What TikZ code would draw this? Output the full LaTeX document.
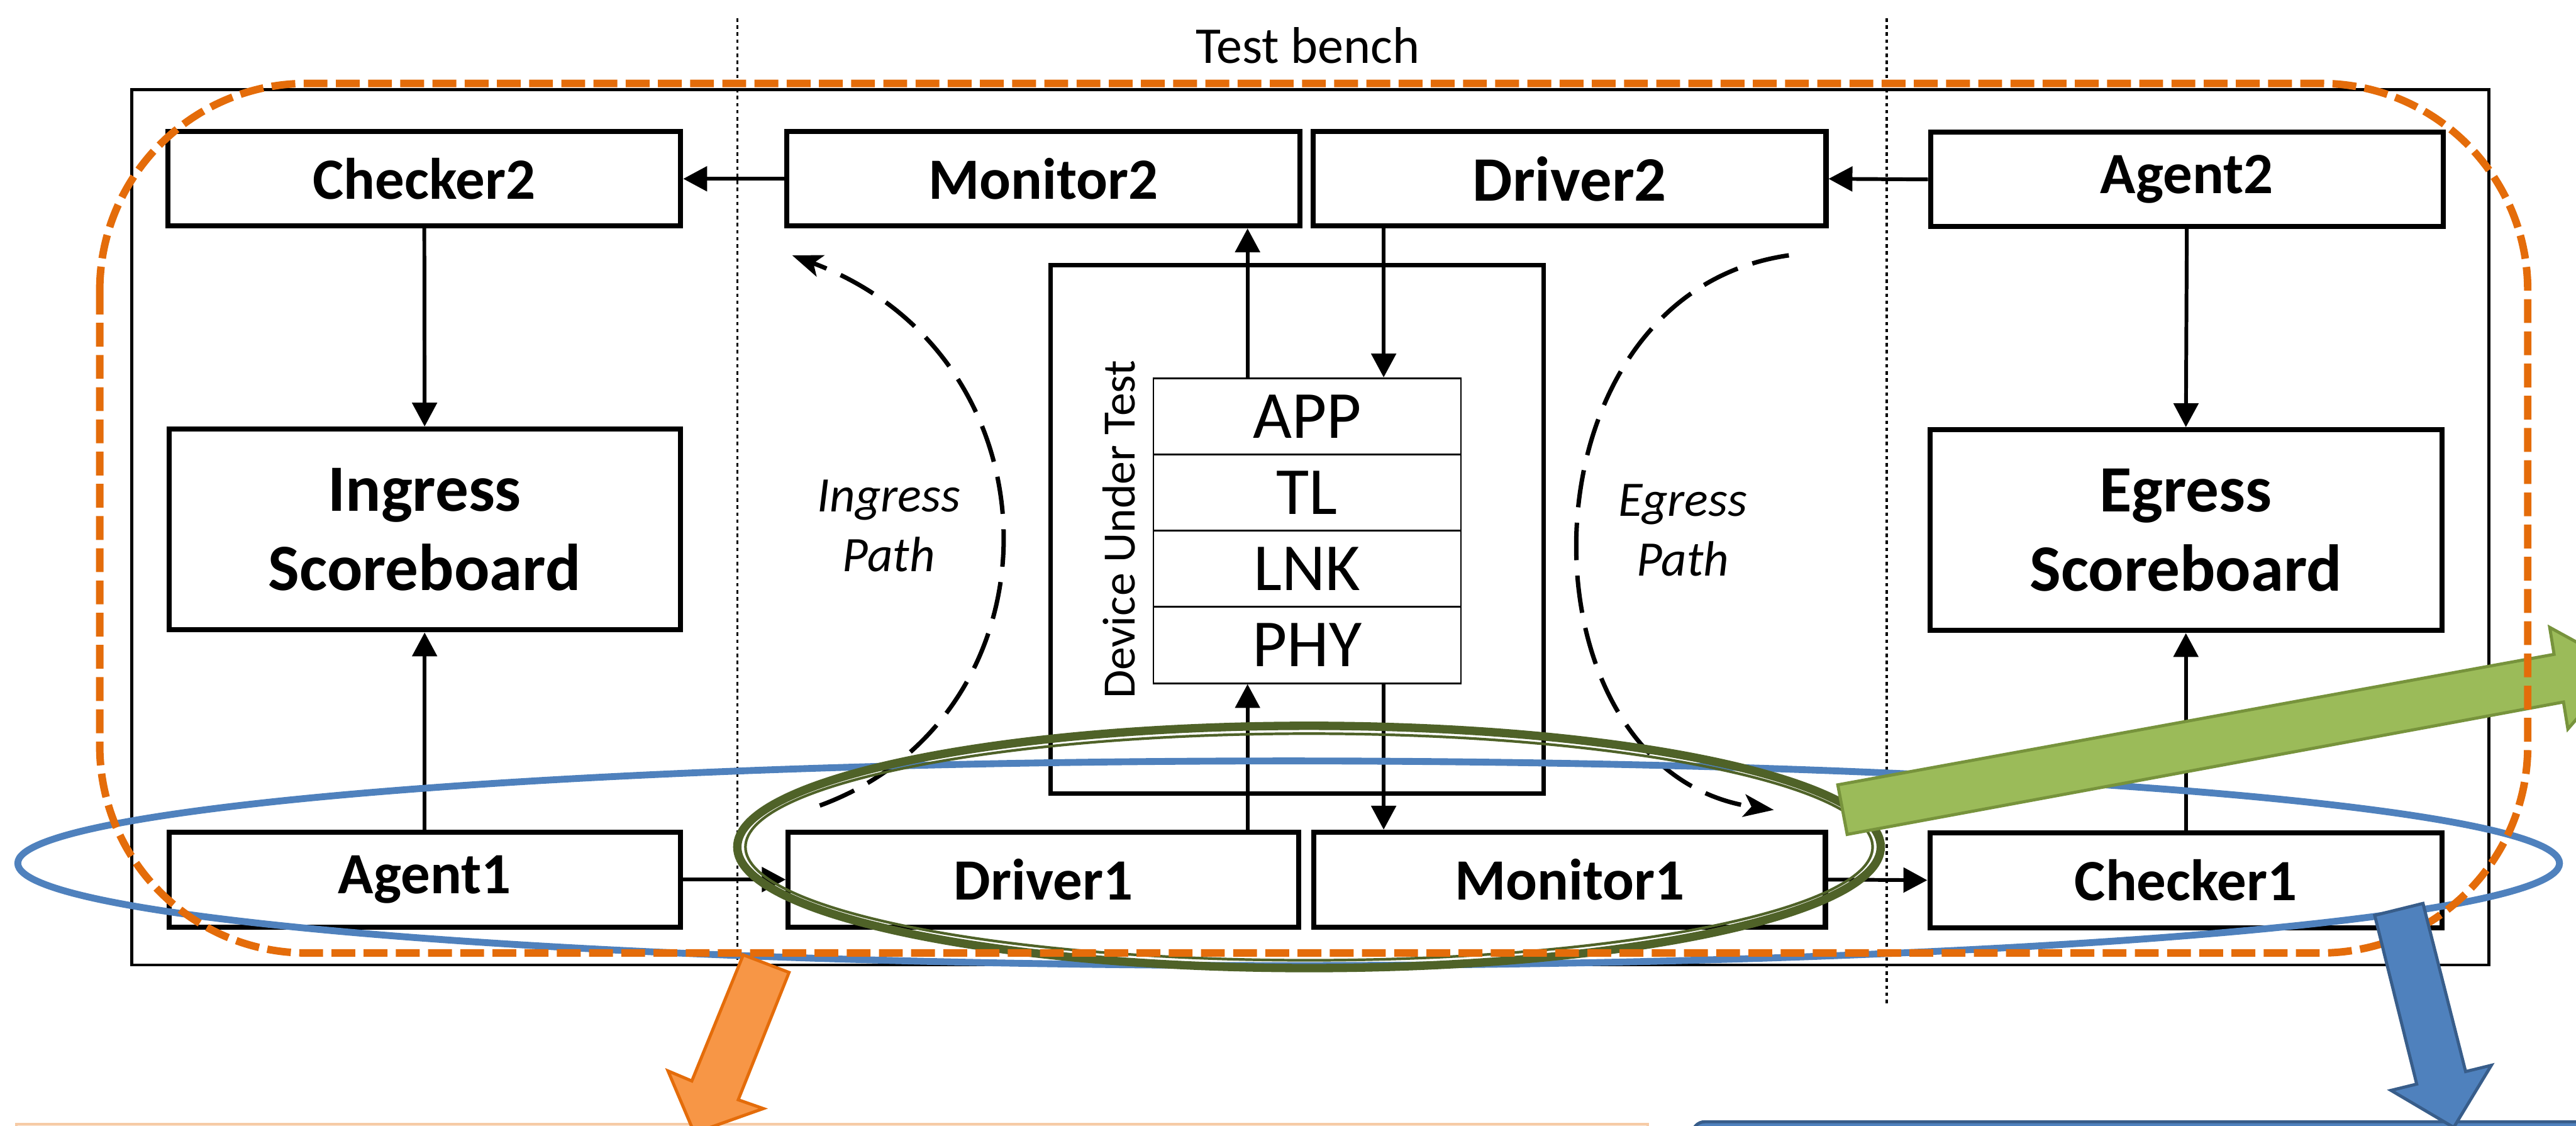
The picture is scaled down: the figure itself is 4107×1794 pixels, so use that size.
\documentclass[tikz,border=0pt]{standalone}
\usepackage{fontspec}
\setmainfont{Carlito}
\usetikzlibrary{arrows.meta}

\definecolor{dashorange}{HTML}{E46C0A}
\definecolor{ringblue}{HTML}{4F81BD}
\definecolor{ringgreen}{HTML}{4F6228}
\definecolor{arrowgreen}{HTML}{9BBB59}
\definecolor{arrowgreenrim}{HTML}{77933C}
\definecolor{arroworange}{HTML}{F79646}
\definecolor{arrowbluerim}{HTML}{385D8A}
\definecolor{panelpeach}{HTML}{FDEADA}
\definecolor{panelpeachrim}{HTML}{F6CBA6}

\tikzset{
  blk/.style={draw, line width=2.3pt, fill=white, inner sep=0pt,
    font=\fontsize{26.5pt}{31pt}\selectfont\bfseries},
  bigblk/.style={blk, align=center,
    font=\fontsize{30pt}{36pt}\selectfont\bfseries},
  layer/.style={draw, line width=0.8pt, fill=white, inner sep=0pt,
    minimum width=4.9cm, minimum height=1.215cm,
    font=\fontsize{30.5pt}{36pt}\selectfont},
  flow/.style={line width=1.7pt, -{Triangle[length=0.38cm,width=0.39cm]}},
  pathcurve/.style={line width=2pt, dash pattern=on 17pt off 7pt,
    -{Stealth[length=0.48cm,width=0.36cm,inset=0.12cm]}},
  pathlabel/.style={align=center, font=\fontsize{22.5pt}{27pt}\selectfont\itshape},
  divider/.style={line width=0.9pt, dash pattern=on 1.6pt off 1.6pt},
  blockarrow/.style={line width=1.4pt, line join=miter}
}

\begin{document}
\begin{tikzpicture}[x=0.01cm,y=-0.01cm]
\useasboundingbox (0,0) rectangle (4107,1794);
\clip (0,0) rectangle (4107,1794);

% test bench frame and its title
\draw[line width=1.3pt] (210,143) rectangle (3968,1538);
\node[font=\fontsize{23.4pt}{28pt}\selectfont] (tbtitle) at (2085,73) {Test bench};

% section dividers
\coordinate (divAtop) at (1176,29);
\coordinate (divAbot) at (1176,1530);
\coordinate (divBtop) at (3008,29);
\coordinate (divBbot) at (3008,1602);
\draw[divider] (divAtop) -- (divAbot);
\draw[divider] (divBtop) -- (divBbot);

% upper row
\node[blk, minimum width=8.17cm, minimum height=1.5cm] (checker2) at (676.5,285) {Checker2};
\node[blk, minimum width=8.17cm, minimum height=1.5cm] (monitor2) at (1663.5,285) {Monitor2};
\node[blk, minimum width=8.17cm, minimum height=1.5cm,
      font=\fontsize{28.7pt}{34pt}\selectfont\bfseries] (driver2) at (2502.5,285) {Driver2};
\node[blk, minimum width=8.17cm, minimum height=1.5cm] (agent2) at (3486.5,286) {Agent2};

% scoreboards
\node[bigblk, minimum width=8.15cm, minimum height=3.2cm] (ingress) at (677,844) {Ingress\\Scoreboard};
\node[bigblk, minimum width=8.16cm, minimum height=3.2cm] (egress) at (3485,845) {Egress\\Scoreboard};

% lower row
\node[blk, minimum width=8.15cm, minimum height=1.51cm] (agent1) at (677,1402) {Agent1};
\node[blk, minimum width=8.13cm, minimum height=1.51cm] (driver1) at (1663.5,1402) {Driver1};
\node[blk, minimum width=8.15cm, minimum height=1.51cm] (monitor1) at (2502.5,1402) {Monitor1};
\node[blk, minimum width=8.16cm, minimum height=1.51cm] (checker1) at (3485,1403) {Checker1};

% device under test with its protocol stack
\node[draw, line width=2pt, fill=white, minimum width=7.86cm, minimum height=8.42cm] (dut) at (2068,844) {};
\node[rotate=90, font=\fontsize{21pt}{25pt}\selectfont] (dutlabel) at (1784,844) {Device Under Test};
\node[layer] (app) at (2084,663.75) {APP};
\node[layer] (tl)  at (2084,785.25) {TL};
\node[layer] (lnk) at (2084,906.75) {LNK};
\node[layer] (phy) at (2084,1028.25) {PHY};

% connectors
\coordinate (upx) at (1989,0);
\coordinate (dnx) at (2206,0);
\draw[flow] (agent2.west) -- (driver2.east);
\draw[flow] (monitor2.west) -- (checker2.east);
\draw[flow] (checker2.south) -- (ingress.north);
\draw[flow] (agent1.north) -- (ingress.south);
\draw[flow] (agent2.south) -- (egress.north);
\draw[flow] (checker1.north) -- (egress.south);
\draw[flow] (agent1.east) -- (driver1.west);
\draw[flow] (monitor1.east) -- (checker1.west);
\draw[flow] (upx |- app.north) -- (upx |- monitor2.south);
\draw[flow] (dnx |- driver2.south) -- (dnx |- app.north);
\draw[flow] (upx |- driver1.north) -- (upx |- phy.south);
\draw[flow] (dnx |- phy.south) -- (dnx |- monitor1.north);

% ingress / egress path curves
\coordinate (ingStart) at (1307,1284);
\coordinate (ingEnd) at (1263,407);
\coordinate (egStart) at (2852,407);
\coordinate (egEnd) at (2828,1291);
\draw[pathcurve] (ingStart) .. controls (1700,1140) and (1700,570) .. (ingEnd);
\draw[pathcurve] (egStart) .. controls (2410,470) and (2410,1230) .. (egEnd);
\node[pathlabel] (inglabel) at (1417,838) {Ingress\\Path};
\node[pathlabel] (eglabel) at (2683,845) {Egress\\Path};

% blue ring around the lower row
\draw[ringblue, line width=3.1pt] (2054.5,1376) ellipse [x radius=20.25cm, y radius=1.63cm];

% double green ring around Driver1 / Monitor1
\draw[ringgreen, line width=3.8pt] (2087,1350) ellipse [x radius=9.11cm, y radius=1.93cm];
\draw[ringgreen, line width=1.2pt] (2087,1350) ellipse [x radius=8.98cm, y radius=1.805cm];

% green block arrow pointing right
\filldraw[blockarrow, fill=arrowgreen, draw=arrowgreenrim]
  (2930,1251) -- (4072,1043) -- (4065,1000) -- (4180,1063) -- (4094,1162) -- (4087,1119) -- (2945,1330) -- cycle;

% orange dashed environment boundary
\draw[dashorange, line width=3.4pt, dash pattern=on 10.8pt off 3.8pt, rounded corners=3.3cm]
  (159,133) rectangle (4030,1519);

% panels along the lower edge
\filldraw[fill=panelpeach, draw=panelpeachrim, line width=1pt] (26,1792) rectangle (2627,1950);
\filldraw[fill=ringblue, draw=arrowbluerim, line width=1.4pt, rounded corners=0.2cm] (2698,1788) rectangle (4250,1950);

% orange block arrow pointing down-left
\filldraw[blockarrow, fill=arroworange, draw=dashorange]
  (1185,1522) -- (1258,1550) -- (1177,1753) -- (1217,1767) -- (1107,1806) -- (1065,1707) -- (1103,1723) -- cycle;

% blue block arrow pointing down
\filldraw[blockarrow, fill=ringblue, draw=arrowbluerim]
  (3786,1459) -- (3863,1440) -- (3931,1708) -- (3972,1698) -- (3912,1797) -- (3812,1738) -- (3853,1728) -- cycle;
\end{tikzpicture}
\end{document}
